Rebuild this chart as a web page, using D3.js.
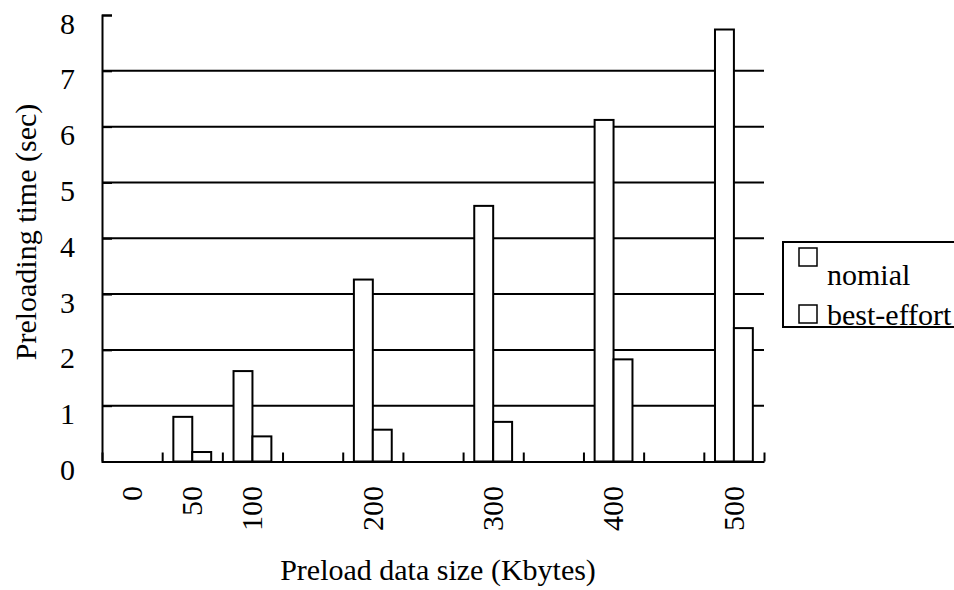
<!DOCTYPE html>
<html>
<head>
<meta charset="utf-8">
<script src="https://cdn.jsdelivr.net/npm/d3@7/dist/d3.min.js"></script>
<style>
  html, body { margin: 0; padding: 0; background: #fff; }
  svg { display: block; }
</style>
</head>
<body>
<svg id="chart" width="954" height="590"></svg>
<script>
// Category slots along the x axis (some slots carry no label and no bars)
const categories = ["0", "50", "100", "150", "200", "250", "300", "350", "400", "450", "500"];
const tickLabels = ["0", "50", "100", "", "200", "", "300", "", "400", "", "500"];
// Preload sizes that have measurements
const sizes = ["50", "100", "200", "300", "400", "500"];
const nominal = [0.80, 1.62, 3.26, 4.58, 6.12, 7.74];
const bestEffort = [0.17, 0.45, 0.57, 0.71, 1.83, 2.39];
const seriesNames = ["nomial", "best-effort"];
const yTicks = [0, 1, 2, 3, 4, 5, 6, 7, 8];
const gridValues = [1, 2, 3, 4, 5, 6, 7];

const svg = d3.select("#chart");
const serif = "Liberation Serif";

const plotLeft = 102, plotRight = 764, plotTop = 15, plotBottom = 461.5;

const x = d3.scaleBand().domain(categories).range([plotLeft, plotRight]).padding(0);
const xs = d3.scaleBand().domain(seriesNames).range([0, x.bandwidth()])
  .paddingInner(0).paddingOuter(0.59);
const y = d3.scaleLinear().domain([0, 8]).range([plotBottom, plotTop]);
// slot boundaries for the category tick marks
const slot = d3.scaleLinear().domain([0, categories.length]).range([plotLeft, plotRight]);

// horizontal gridlines
svg.append("g")
  .selectAll("line")
  .data(gridValues)
  .join("line")
  .attr("x1", plotLeft).attr("x2", plotRight)
  .attr("y1", d => y(d)).attr("y2", d => y(d))
  .attr("stroke", "#000").attr("stroke-width", 2);

// bars, white with black outline, drawn over the gridlines
const rows = sizes.map((s, i) => ({ size: s, values: [nominal[i], bestEffort[i]] }));
const groups = svg.append("g")
  .selectAll("g")
  .data(rows)
  .join("g")
  .attr("transform", d => `translate(${x(d.size)},0)`);
groups.selectAll("rect")
  .data(d => d.values.map((v, j) => ({ key: seriesNames[j], v })))
  .join("rect")
  .attr("x", d => xs(d.key))
  .attr("width", xs.bandwidth())
  .attr("y", d => y(d.v))
  .attr("height", d => y(0) - y(d.v))
  .attr("fill", "#fff")
  .attr("stroke", "#000")
  .attr("stroke-width", 2);

// y axis with inward ticks
const yAxis = svg.append("g")
  .attr("transform", `translate(${plotLeft},0)`)
  .call(d3.axisLeft(y).tickValues(yTicks).tickSize(-10).tickPadding(27).tickFormat(d3.format("d")));
yAxis.attr("font-family", serif).attr("font-size", 30);
yAxis.select(".domain").attr("stroke", "#000").attr("stroke-width", 2);
yAxis.selectAll(".tick line").attr("stroke", "#000").attr("stroke-width", 2);
yAxis.selectAll("text").attr("dy", "0.6em");

// x axis line with upward ticks at slot boundaries
const xAxis = svg.append("g")
  .attr("transform", `translate(0,${plotBottom})`)
  .call(d3.axisBottom(slot).tickValues(d3.range(categories.length + 1)).tickSize(-9).tickSizeOuter(0).tickFormat(""));
xAxis.select(".domain").attr("stroke", "#000").attr("stroke-width", 2);
xAxis.selectAll(".tick line").attr("stroke", "#000").attr("stroke-width", 2);

// rotated category labels
const xLabels = svg.append("g")
  .attr("transform", `translate(0,${plotBottom})`)
  .call(d3.axisBottom(x).tickSize(0).tickFormat((d, i) => tickLabels[i]));
xLabels.attr("font-family", serif).attr("font-size", 30);
xLabels.select(".domain").remove();
xLabels.selectAll("text")
  .attr("transform", "rotate(-90)")
  .attr("x", -24.5)
  .attr("y", 0)
  .attr("dy", "0.33em")
  .attr("text-anchor", "end");

// axis titles
svg.append("text")
  .attr("transform", "translate(36,232) rotate(-90)")
  .attr("text-anchor", "middle")
  .attr("font-family", serif)
  .attr("font-size", 30)
  .text("Preloading time (sec)");

svg.append("text")
  .attr("x", 438)
  .attr("y", 580)
  .attr("text-anchor", "middle")
  .attr("font-family", serif)
  .attr("font-size", 30)
  .text("Preload data size (Kbytes)");

// legend box running off the right edge
const legend = svg.append("g");
legend.append("rect")
  .attr("x", 783).attr("y", 242)
  .attr("width", 200).attr("height", 85)
  .attr("fill", "#fff").attr("stroke", "#000").attr("stroke-width", 2);
const legendRows = [
  { name: seriesNames[0], sy: 248, ty: 285 },
  { name: seriesNames[1], sy: 305, ty: 325 }
];
const item = legend.selectAll("g.item")
  .data(legendRows)
  .join("g")
  .attr("class", "item");
item.append("rect")
  .attr("x", 799).attr("y", d => d.sy)
  .attr("width", 18).attr("height", 18)
  .attr("fill", "#fff").attr("stroke", "#000").attr("stroke-width", 1.5);
item.append("text")
  .attr("x", 827).attr("y", d => d.ty)
  .attr("font-family", serif)
  .attr("font-size", 30)
  .text(d => d.name);
</script>
</body>
</html>
